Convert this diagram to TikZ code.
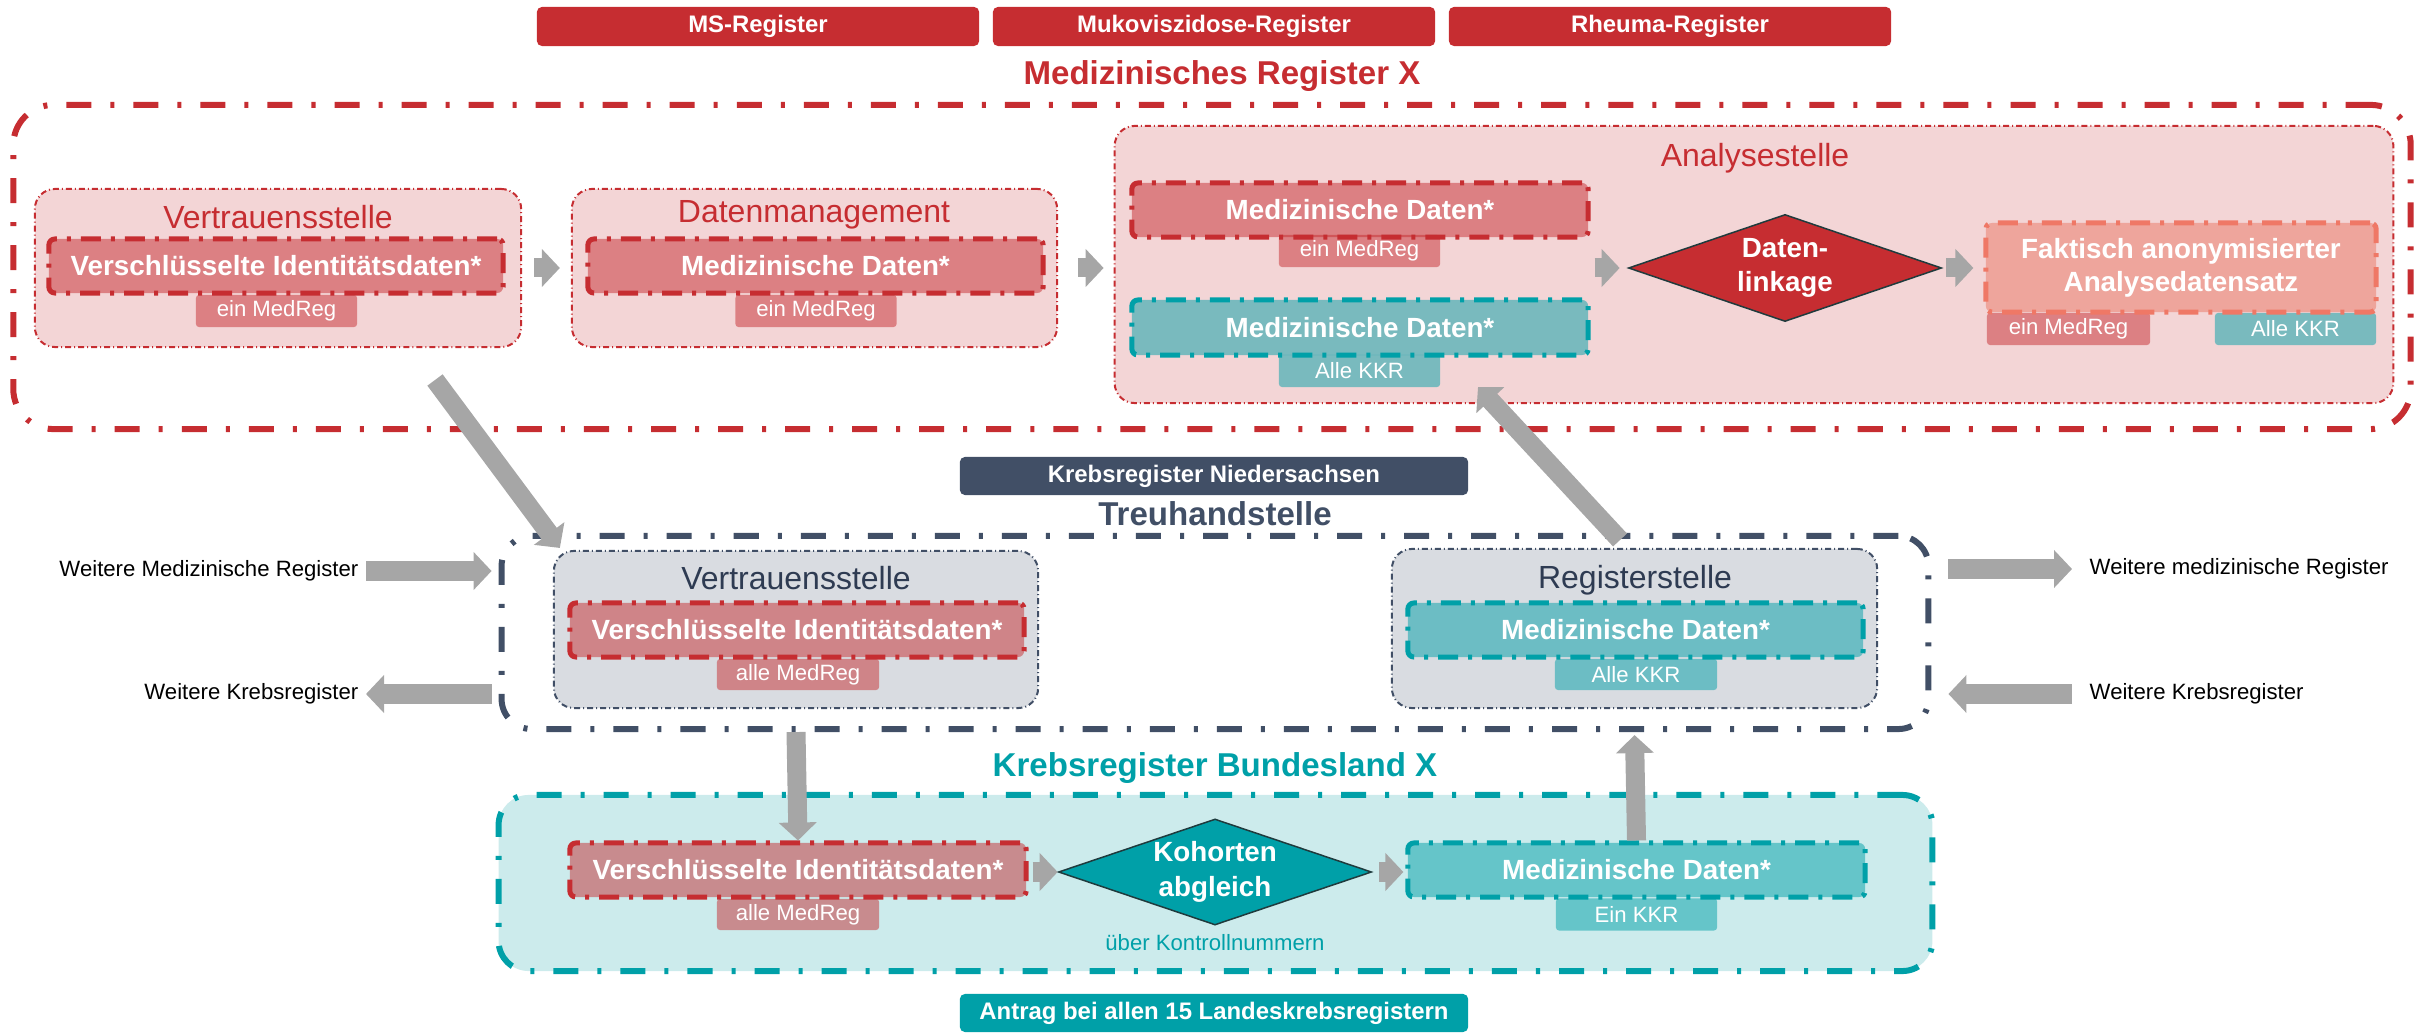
\documentclass[tikz,border=0pt]{standalone}
\usepackage{fontspec}
\setmainfont{Liberation Sans}
\usepackage{tikz}
\usetikzlibrary{positioning}
\usetikzlibrary{shapes.geometric}
\usetikzlibrary{arrows.meta}

\definecolor{medred}{HTML}{C62D31}
\definecolor{pinkbg}{HTML}{F3D5D6}
\definecolor{medteal}{HTML}{00A0A8}
\definecolor{krfill}{HTML}{CCEBEC}
\definecolor{slate}{HTML}{414F66}
\definecolor{slatetext}{HTML}{2E3B52}
\definecolor{grayfill}{HTML}{D9DCE1}
\definecolor{arrowgray}{HTML}{A6A6A6}
\definecolor{factfill}{HTML}{EEA59C}
\definecolor{factline}{HTML}{EF7866}
\definecolor{diamondline}{HTML}{1F3B3D}

\tikzset{
  regtag/.style={fill=medred, rounded corners=0.05cm, minimum width=4.42cm, minimum height=0.39cm, inner sep=0, text=white, font=\fontsize{6.8}{8}\selectfont\bfseries},
  bigtag/.style={rounded corners=0.05cm, minimum width=5.08cm, minimum height=0.38cm, inner sep=0, text=white, font=\fontsize{6.8}{8}\selectfont\bfseries},
  headline/.style={inner sep=0, font=\fontsize{9.4}{11}\selectfont\bfseries},
  outerbox/.style={rounded corners=0.4cm, line width=0.06cm, dash pattern=on 0.25cm off 0.19cm on 0.04cm off 0.19cm},
  unitbox/.style={rounded corners=0.2cm, line width=0.02cm, dash pattern=on 0.06cm off 0.03cm on 0.01cm off 0.03cm},
  unittitle/.style={inner sep=0, font=\fontsize{9.1}{11}\selectfont},
  databox/.style={rounded corners=0.06cm, minimum height=0.54cm, inner sep=0, line width=0.05cm, dash pattern=on 0.2cm off 0.1cm on 0.04cm off 0.1cm, fill opacity=0.5, text opacity=1, text=white, font=\fontsize{7.9}{9}\selectfont\bfseries},
  reddata/.style={databox, draw=medred, fill=medred},
  tealdata/.style={databox, draw=medteal, fill=medteal},
  smalltag/.style={rounded corners=0.03cm, minimum width=1.61cm, minimum height=0.32cm, inner sep=0, fill opacity=0.5, text opacity=1, text=white, font=\fontsize{6.3}{7}\selectfont},
  redtag/.style={smalltag, fill=medred},
  tealtag/.style={smalltag, fill=medteal},
  linkdiamond/.style={diamond, aspect=2.93, draw=diamondline, line width=0.015cm, minimum width=3.13cm, minimum height=1.07cm, inner sep=0, align=center, text=white, font=\fontsize{7.9}{9.8}\selectfont\bfseries},
  sidetext/.style={inner sep=0, font=\fontsize{6.3}{7}\selectfont},
  blockarrow/.style={draw=arrowgray, line width=0.19cm, -{Triangle[width=0.37cm,length=0.18cm]}},
}

\begin{document}
\begin{tikzpicture}[x=0.01cm, y=-0.01cm]
\useasboundingbox (0,0) rectangle (2425,1034);

% Medizinisches Register
\node[regtag] (ms) at (758,26.5) {MS-Register};
\node[regtag] (muko) at (1214,26.5) {Mukoviszidose-Register};
\node[regtag] (rheuma) at (1670,26.5) {Rheuma-Register};
\node[headline, text=medred] (mrTitle) at (1222,76) {Medizinisches Register X};
\node[outerbox, draw=medred, minimum width=23.96cm, minimum height=3.24cm] (mr) at (1212,267) {};

\node[unitbox, fill=pinkbg, draw=medred, minimum width=4.86cm, minimum height=1.58cm] (mrVs) at (278,268) {};
\node[unittitle, text=medred] (mrVsTitle) at (278,217) {Vertrauensstelle};
\node[redtag] (mrVsTag) at (276.5,311) {ein MedReg};
\node[reddata, minimum width=4.54cm] (mrVsData) at (276,266) {Verschlüsselte Identitätsdaten*};

\node[unitbox, fill=pinkbg, draw=medred, minimum width=4.85cm, minimum height=1.58cm] (mrDm) at (814.5,268) {};
\node[unittitle, text=medred] (mrDmTitle) at (814,215) {Datenmanagement};
\node[redtag] (mrDmTag) at (816,311) {ein MedReg};
\node[reddata, minimum width=4.55cm] (mrDmData) at (815.5,266) {Medizinische Daten*};

\node[unitbox, fill=pinkbg, draw=medred, minimum width=12.78cm, minimum height=2.77cm] (ana) at (1754,264.5) {};
\node[unittitle, text=medred] (anaTitle) at (1755,158) {Analysestelle};
\node[redtag] (anaRedTag) at (1359.5,251) {ein MedReg};
\node[reddata, minimum width=4.56cm] (anaRed) at (1360,210) {Medizinische Daten*};
\node[tealtag] (anaTealTag) at (1359.5,371) {Alle KKR};
\node[tealdata, minimum width=4.56cm, minimum height=0.55cm] (anaTeal) at (1360,327.5) {Medizinische Daten*};
\node[linkdiamond, fill=medred] (link) at (1785,268) {Daten-\\linkage};
\node[redtag, minimum width=1.63cm] (faktRedTag) at (2068.5,329) {ein MedReg};
\node[tealtag] (faktTealTag) at (2295.5,329) {Alle KKR};
\node[databox, fill=factfill, fill opacity=1, draw=factline, minimum width=3.90cm, minimum height=0.89cm, align=center, font=\fontsize{7.9}{9.4}\selectfont\bfseries] (fakt) at (2181,267.5) {Faktisch anonymisierter\\Analysedatensatz};

% Treuhandstelle
\node[bigtag, fill=slate] (krnTag) at (1214,476) {Krebsregister Niedersachsen};
\node[headline, text=slate] (thTitle) at (1215,514) {Treuhandstelle};
\node[outerbox, draw=slate, rounded corners=0.3cm, minimum width=14.26cm, minimum height=1.93cm] (th) at (1215,632.5) {};

\node[unitbox, fill=grayfill, draw=slate, minimum width=4.84cm, minimum height=1.57cm] (thVs) at (796,629.5) {};
\node[unittitle, text=slatetext] (thVsTitle) at (796,578) {Vertrauensstelle};
\node[redtag, minimum width=1.62cm, minimum height=0.31cm] (thVsTag) at (798,674.5) {alle MedReg};
\node[reddata, minimum width=4.54cm] (thVsData) at (797,630) {Verschlüsselte Identitätsdaten*};

\node[unitbox, fill=grayfill, draw=slate, minimum width=4.85cm, minimum height=1.59cm] (rs) at (1634.5,628.5) {};
\node[unittitle, text=slatetext] (rsTitle) at (1635,580) {Registerstelle};
\node[tealtag, minimum width=1.62cm, minimum height=0.31cm] (rsTag) at (1636,674.5) {Alle KKR};
\node[tealdata, minimum width=4.55cm] (rsData) at (1635.5,630) {Medizinische Daten*};

\node[sidetext, anchor=east] (wmrL) at (359,571) {Weitere Medizinische Register};
\node[sidetext, anchor=east] (wkrL) at (359,694) {Weitere Krebsregister};
\node[sidetext, anchor=west] (wmrR) at (2089,569) {Weitere medizinische Register};
\node[sidetext, anchor=west] (wkrR) at (2089,694) {Weitere Krebsregister};

% Krebsregister Bundesland
\node[headline, text=medteal] (krTitle) at (1215,768) {Krebsregister Bundesland X};
\node[outerbox, draw=medteal, fill=krfill, rounded corners=0.3cm, minimum width=14.33cm, minimum height=1.76cm] (kr) at (1215.5,883) {};
\node[redtag, minimum width=1.62cm, minimum height=0.31cm] (krVsTag) at (798,914.5) {alle MedReg};
\node[reddata, minimum width=4.56cm] (krVs) at (798,870) {Verschlüsselte Identitätsdaten*};
\node[linkdiamond, fill=medteal, minimum height=1.06cm] (koh) at (1215,872) {Kohorten\\abgleich};
\node[sidetext, text=medteal] (kohText) at (1215,943) {über Kontrollnummern};
\node[tealtag] (krMdTag) at (1636.5,914.5) {Ein KKR};
\node[tealdata, minimum width=4.57cm] (krMd) at (1636.5,870) {Medizinische Daten*};
\node[bigtag, fill=medteal] (antrag) at (1214,1013) {Antrag bei allen 15 Landeskrebsregistern};

% Pfeile
\draw[blockarrow] ([xshift=0.12cm]mrVs.east) -- ([xshift=-0.11cm]mrDm.west);
\draw[blockarrow] ([xshift=0.2cm]mrDm.east) -- ([xshift=-0.1cm]ana.west |- mrDm.east);
\draw[blockarrow] ([xshift=0.04cm]anaRed.east |- link.west) -- ([xshift=-0.08cm]link.west);
\draw[blockarrow] ([xshift=0.04cm]link.east) -- ([xshift=-0.1cm]fakt.west |- link.east);
\draw[blockarrow] ([xshift=0.04cm]krVs.east |- koh.west) -- (koh.west);
\draw[blockarrow] ([xshift=0.07cm]koh.east) -- ([xshift=-0.02cm]krMd.west |- koh.east);

\coordinate (diagStart) at (435,380);
\draw[blockarrow] (diagStart) -- ([xshift=0.07cm,yshift=0.02cm]thVs.north west);
\coordinate (upStart) at (1620,540);
\coordinate (upTip) at (1478,387);
\draw[blockarrow] (upStart) -- (upTip);
\draw[blockarrow] (thVs.south |- th.south) -- (krVs.north);
\draw[blockarrow] (krMd.north) -- ([yshift=-0.03cm]rs.south |- th.south);

\draw[blockarrow] ([xshift=0.07cm]wmrL.east) -- ([xshift=-0.07cm]th.west |- wmrL.east);
\draw[blockarrow] ([xshift=-0.07cm]th.west |- wkrL.east) -- ([xshift=0.07cm]wkrL.east);
\draw[blockarrow] ([xshift=0.17cm]th.east |- wmrR.west) -- ([xshift=-0.17cm]wmrR.west);
\draw[blockarrow] ([xshift=-0.17cm]wkrR.west) -- ([xshift=0.17cm]th.east |- wkrR.west);
\end{tikzpicture}
\end{document}
